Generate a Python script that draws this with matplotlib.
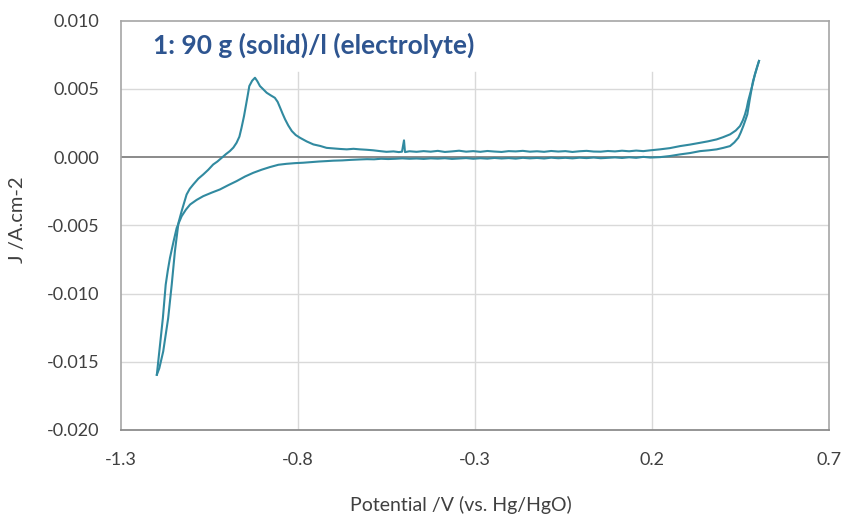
import matplotlib
matplotlib.use("Agg")
import matplotlib.pyplot as plt

# ---------------- data ----------------
# anodic sweep: from the cathodic vertex up to the anodic vertex
anodic_x = [-1.198, -1.191, -1.180, -1.166, -1.156, -1.147, -1.137, -1.128, -1.114,
            -1.105, -1.095, -1.081, -1.067, -1.053, -1.039, -1.027, -1.015, -1.003,
            -0.992, -0.982, -0.973, -0.965, -0.959, -0.952, -0.946, -0.941, -0.937,
            -0.929, -0.921, -0.914, -0.907, -0.898, -0.888, -0.876, -0.865, -0.857,
            -0.850, -0.843, -0.836, -0.827, -0.817, -0.806, -0.794, -0.775, -0.756,
            -0.737, -0.719, -0.700, -0.681, -0.662, -0.643, -0.625, -0.606, -0.587,
            -0.568, -0.550, -0.530, -0.515, -0.506, -0.5004, -0.4976, -0.485, -0.465,
            -0.445, -0.425, -0.405, -0.385, -0.365, -0.345, -0.325, -0.305, -0.285,
            -0.265, -0.245, -0.225, -0.205, -0.185, -0.165, -0.145, -0.125, -0.105,
            -0.085, -0.065, -0.045, -0.025, -0.005, 0.015, 0.035, 0.055, 0.075,
            0.095, 0.115, 0.135, 0.155, 0.175, 0.195, 0.222, 0.250, 0.279, 0.307,
            0.335, 0.358, 0.382, 0.400, 0.420, 0.436, 0.448, 0.456, 0.462, 0.467,
            0.471, 0.476, 0.481, 0.486, 0.490, 0.496, 0.5016]
anodic_y = [-0.01595, -0.01547, -0.01424, -0.01180, -0.00935, -0.00690, -0.00482, -0.00396, -0.00274,
            -0.00232, -0.00200, -0.00158, -0.00127, -0.00093, -0.00054, -0.00032, -0.00005, 0.00022,
            0.00044, 0.00070, 0.00105, 0.00150, 0.00215, 0.00300, 0.00387, 0.00460, 0.00521,
            0.00560, 0.00582, 0.00555, 0.00521, 0.00498, 0.00472, 0.00452, 0.00435, 0.00405,
            0.00362, 0.00318, 0.00277, 0.00232, 0.00191, 0.00162, 0.00142, 0.00115, 0.00093,
            0.00082, 0.00068, 0.00064, 0.00060, 0.00057, 0.00061, 0.00057, 0.00054, 0.00050,
            0.00044, 0.00039, 0.00042, 0.00037, 0.00040, 0.00123, 0.00037, 0.00043, 0.00039,
            0.00044, 0.00040, 0.00046, 0.00038, 0.00042, 0.00047, 0.00040, 0.00044, 0.00039,
            0.00045, 0.00041, 0.00038, 0.00044, 0.00042, 0.00046, 0.00040, 0.00043, 0.00039,
            0.00045, 0.00041, 0.00044, 0.00038, 0.00043, 0.00046, 0.00041, 0.00040, 0.00045,
            0.00042, 0.00047, 0.00043, 0.00048, 0.00044, 0.00050, 0.00057, 0.00066, 0.00081, 0.00092,
            0.00105, 0.00116, 0.00130, 0.00146, 0.00167, 0.00195, 0.00228, 0.00270, 0.00313, 0.00360,
            0.00411, 0.00460, 0.00509, 0.00560, 0.00607, 0.00660, 0.00705]

# cathodic sweep: from the anodic vertex back down to the cathodic vertex
cathodic_x = [0.5016, 0.4930, 0.4847, 0.4760, 0.4686, 0.4630, 0.4573, 0.4500, 0.4432,
              0.4320, 0.4198, 0.4010, 0.3822, 0.3600, 0.3351, 0.3070, 0.2786, 0.2500,
              0.2222, 0.195, 0.175, 0.155, 0.135, 0.115, 0.095, 0.075, 0.055, 0.035,
              0.015, -0.005, -0.025, -0.045, -0.065, -0.085, -0.105, -0.125, -0.145,
              -0.165, -0.185, -0.205, -0.225, -0.245, -0.265, -0.285, -0.305, -0.325,
              -0.345, -0.365, -0.385, -0.405, -0.425, -0.445, -0.465, -0.485, -0.505,
              -0.525, -0.545, -0.565, -0.585, -0.605, -0.625, -0.650, -0.675, -0.700,
              -0.719, -0.740, -0.760, -0.785, -0.808, -0.832, -0.855, -0.879, -0.902,
              -0.926, -0.949, -0.973, -0.996, -1.020, -1.043, -1.067, -1.086, -1.104,
              -1.116, -1.128, -1.142, -1.151, -1.161, -1.167, -1.173, -1.181, -1.191,
              -1.198]
cathodic_y = [0.00705, 0.00630, 0.00558, 0.00430, 0.00313, 0.00270, 0.00228, 0.00180, 0.00142,
              0.00108, 0.00081, 0.00068, 0.00057, 0.00050, 0.00044, 0.00030, 0.00020, 0.00008,
              0.00000, -0.00003, 0.00002, -0.00005, -0.00001, -0.00006, -0.00002, -0.00005, -0.00008,
              -0.00003, -0.00007, -0.00004, -0.00009, -0.00005, -0.00008, -0.00004, -0.00010, -0.00006,
              -0.00009, -0.00005, -0.00011, -0.00007, -0.00010, -0.00006, -0.00011, -0.00008, -0.00012,
              -0.00007, -0.00010, -0.00013, -0.00008, -0.00011, -0.00009, -0.00013, -0.00010, -0.00012,
              -0.00009, -0.00012, -0.00014, -0.00012, -0.00016, -0.00015, -0.00017, -0.00020, -0.00024,
              -0.00026, -0.00029, -0.00032, -0.00036, -0.00041, -0.00044, -0.00049, -0.00056, -0.00073,
              -0.00092, -0.00115, -0.00142, -0.00176, -0.00205, -0.00237, -0.00260, -0.00286, -0.00314,
              -0.00347, -0.00385, -0.00433, -0.00519, -0.00620, -0.00739, -0.00830, -0.00935, -0.01180,
              -0.01424, -0.01595]

x_ticks = [-1.3, -0.8, -0.3, 0.2, 0.7]
y_ticks = [-0.020, -0.015, -0.010, -0.005, 0.000, 0.005, 0.010]
title_text = "1: 90 g (solid)/l (electrolyte)"
x_label = "Potential /V (vs. Hg/HgO)"
y_label = "J /A.cm-2"

# ---------------- figure ----------------
plt.rcParams['font.family'] = ['Lato', 'DejaVu Sans']
W, H = 845, 520
fig = plt.figure(figsize=(W / 100, H / 100), dpi=100)
ax = fig.add_axes([120.7 / W, 1 - 430 / H, (829.3 - 120.7) / W, (430 - 20.7) / H])

line_color = '#318AA0'
ax.plot(anodic_x, anodic_y, color=line_color, lw=1.5, zorder=3)
ax.plot(cathodic_x, cathodic_y, color=line_color, lw=1.5, zorder=3)

ax.set_xlim(x_ticks[0], x_ticks[-1])
ax.set_ylim(y_ticks[0], y_ticks[-1])
ax.set_xticks(x_ticks)
ax.set_yticks(y_ticks)
ax.set_xticklabels([f"{v:g}" for v in x_ticks])
ax.set_yticklabels([f"{v:.3f}" for v in y_ticks])
ax.tick_params(length=0, labelsize=13, labelcolor='#404040')
ax.tick_params(axis='y', pad=15.5)
ax.tick_params(axis='x', pad=16)

grid_color = '#d9d9d9'
for yv in y_ticks[1:-1]:
    if yv != 0:
        ax.axhline(yv, color=grid_color, lw=1.0, zorder=1)
for xv in x_ticks[1:-1]:
    ax.axvline(xv, ymin=0, ymax=0.8747, color=grid_color, lw=1.0, zorder=1)
ax.axhline(0, color='#8a8a8a', lw=1.4, zorder=2)

for side in ['left', 'top', 'right']:
    ax.spines[side].set_color('#a6a6a6')
    ax.spines[side].set_linewidth(1.2)
ax.spines['bottom'].set_color('#8c8c8c')
ax.spines['bottom'].set_linewidth(1.3)

ax.text(0.0456, 0.9406, title_text, transform=ax.transAxes, ha='left', va='center',
        fontsize=19, fontweight='bold', color='#2E5590', zorder=5)

fig.text(461 / W, 1 - 505 / H, x_label, ha='center', va='center', fontsize=14, color='#404040')
fig.text(18 / W, 1 - 220 / H, y_label, ha='center', va='center', rotation=90, fontsize=14.5,
         color='#404040')

fig.savefig('out.png', dpi=100)
